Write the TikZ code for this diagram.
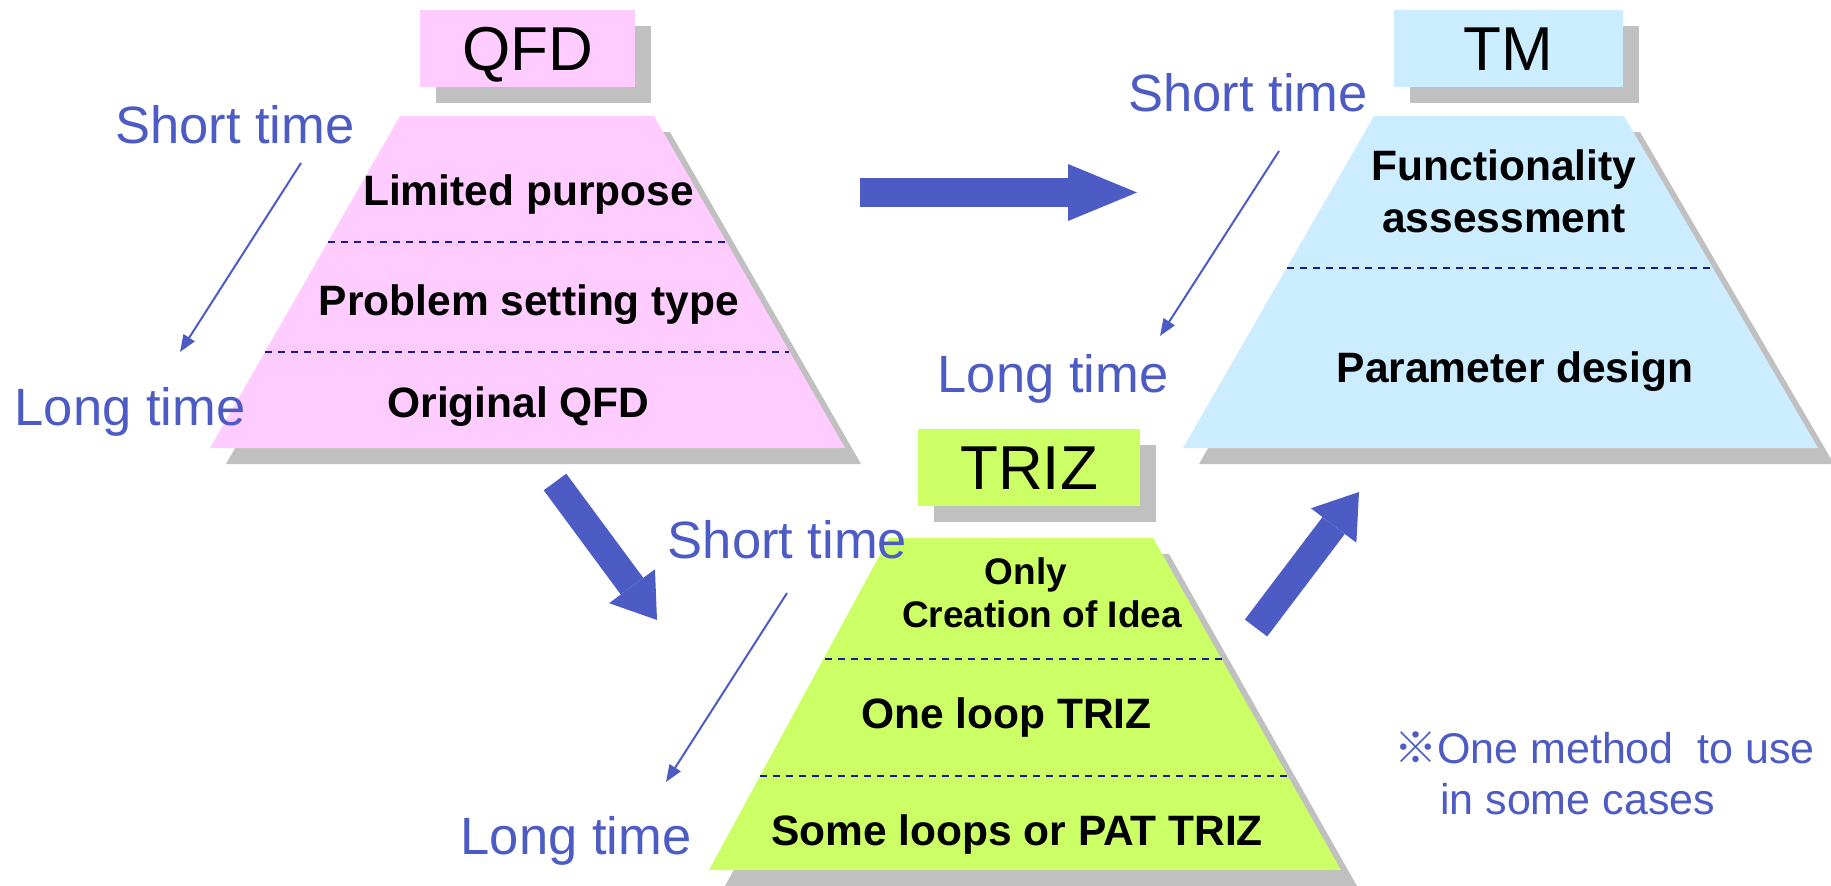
\documentclass[tikz,border=0pt]{standalone}
\usepackage{fontspec}
\setmainfont{Liberation Sans}
\newfontfamily\cjkfont{Noto Sans CJK JP}
\usetikzlibrary{arrows.meta}
\definecolor{qfdpink}{RGB}{255,204,255}
\definecolor{tmblue}{RGB}{204,236,255}
\definecolor{trizgreen}{RGB}{204,255,102}
\definecolor{shadegray}{RGB}{192,192,192}
\definecolor{ink}{RGB}{77,91,196}
\definecolor{navy}{RGB}{26,26,150}
\tikzset{
	headbox/.style 2 args={fill=#1,minimum width=#2,minimum height=77pt,inner sep=0pt,text height=44pt,text depth=0pt,font=\fontsize{62}{62}\selectfont},
	headshadow/.style={fill=shadegray,minimum width=#1,minimum height=77pt,inner sep=0pt},
	lab/.style={inner sep=0pt,font=\fontsize{42.5}{51.7}\selectfont\bfseries,align=center},
	timelab/.style={inner sep=0pt,anchor=base,text=ink,font=\fontsize{52.5}{60}\selectfont},
	note/.style={inner sep=0pt,text=ink,align=left,font=\fontsize{43}{51.7}\selectfont},
	band/.style={draw=navy,line width=2pt,dash pattern=on 7pt off 6pt},
	timearrow/.style={draw=ink,line width=2pt,-{Triangle[length=17pt,width=13pt]}},
	flow/.style 2 args={draw=ink,line width=#2,-{Triangle[length=#1,width=57pt,line width=0pt]}}
}
\begin{document}
\begin{tikzpicture}[x=1pt,y=-1pt]
\useasboundingbox (0,0) rectangle (1831,886);

% QFD
\fill[shadegray,shift={(16,16)}] (400,116) -- (654,116) -- (845,448) -- (210,448) -- cycle;
\fill[qfdpink] (400,116) -- (654,116) -- (845,448) -- (210,448) -- cycle;
\draw[band] (328,242) -- (726,242);
\draw[band] (265,352) -- (789,352);
\node[headshadow=215pt] (qfd-sh) at (543.5,64.5) {};
\node[headbox={qfdpink}{215pt}] (qfd) at (527.5,48.5) {QFD};
\node[lab,anchor=base] (qfd-a) at (528.5,205) {Limited purpose};
\node[lab,anchor=base] (qfd-b) at (529,315) {Problem setting type};
\node[lab,anchor=base] (qfd-c) at (518.5,417) {Original QFD};

% TM
\fill[shadegray,shift={(16,16)}] (1374,116) -- (1624,116) -- (1818,448) -- (1183,448) -- cycle;
\fill[tmblue] (1374,116) -- (1624,116) -- (1818,448) -- (1183,448) -- cycle;
\draw[band] (1287,268) -- (1711,268);
\node[headshadow=229pt] (tm-sh) at (1524.5,64.5) {};
\node[headbox={tmblue}{229pt}] (tm) at (1508.5,48.5) {TM};
\node[lab] (tm-a) at (1504,191) {Functionality\\assessment};
\node[lab,anchor=base] (tm-b) at (1515,382) {Parameter design};

% TRIZ
\fill[shadegray,shift={(16,16)}] (889,538) -- (1153,538) -- (1341,870) -- (709,870) -- cycle;
\fill[trizgreen] (889,538) -- (1153,538) -- (1341,870) -- (709,870) -- cycle;
\draw[band] (825,659) -- (1224,659);
\draw[band] (760,776) -- (1288,776);
\node[headshadow=222pt] (triz-sh) at (1045,483.5) {};
\node[headbox={trizgreen}{222pt}] (triz) at (1029,467.5) {TRIZ};
\node[lab,font=\fontsize{37}{43.3}\selectfont\bfseries] (triz-a) at (1026,593) {Only\\\hspace*{32pt}Creation of Idea};
\node[lab,anchor=base] (triz-b) at (1006.5,728) {One loop TRIZ};
\node[lab,anchor=base] (triz-c) at (1017,845) {Some loops or PAT TRIZ};

% short -> long
\node[timelab] (qfd-short) at (235,143) {Short time};
\node[timelab] (qfd-long) at (130,425) {Long time};
\node[timelab] (tm-short) at (1248,111) {Short time};
\node[timelab] (tm-long) at (1053,392) {Long time};
\node[timelab] (triz-short) at (787.5,558) {Short time};
\node[timelab] (triz-long) at (576,854) {Long time};
\coordinate (qfd-from) at (301,163);
\coordinate (qfd-to) at (180,352);
\coordinate (tm-from) at (1279,151);
\coordinate (tm-to) at (1160,336);
\coordinate (triz-from) at (787,593);
\coordinate (triz-to) at (666,782);
\draw[timearrow] (qfd-from) -- (qfd-to);
\draw[timearrow] (tm-from) -- (tm-to);
\draw[timearrow] (triz-from) -- (triz-to);

% big arrows
\coordinate (qfd-out) at (860,192.5);
\coordinate (tm-in) at (1137,192.5);
\coordinate (qfd-down) at (555,482);
\coordinate (triz-in) at (657,620);
\coordinate (triz-out) at (1256,628);
\coordinate (tm-up) at (1359,492);
\draw[flow={69pt}{29pt}] (qfd-out) -- (tm-in);
\draw[flow={42pt}{28pt}] (qfd-down) -- (triz-in);
\draw[flow={42pt}{28pt}] (triz-out) -- (tm-up);

\node[note,anchor=north west] (remark) at (1394,731) {{\cjkfont ※}One method\ \ to use\\\hspace*{46pt}in some cases};
\end{tikzpicture}
\end{document}
